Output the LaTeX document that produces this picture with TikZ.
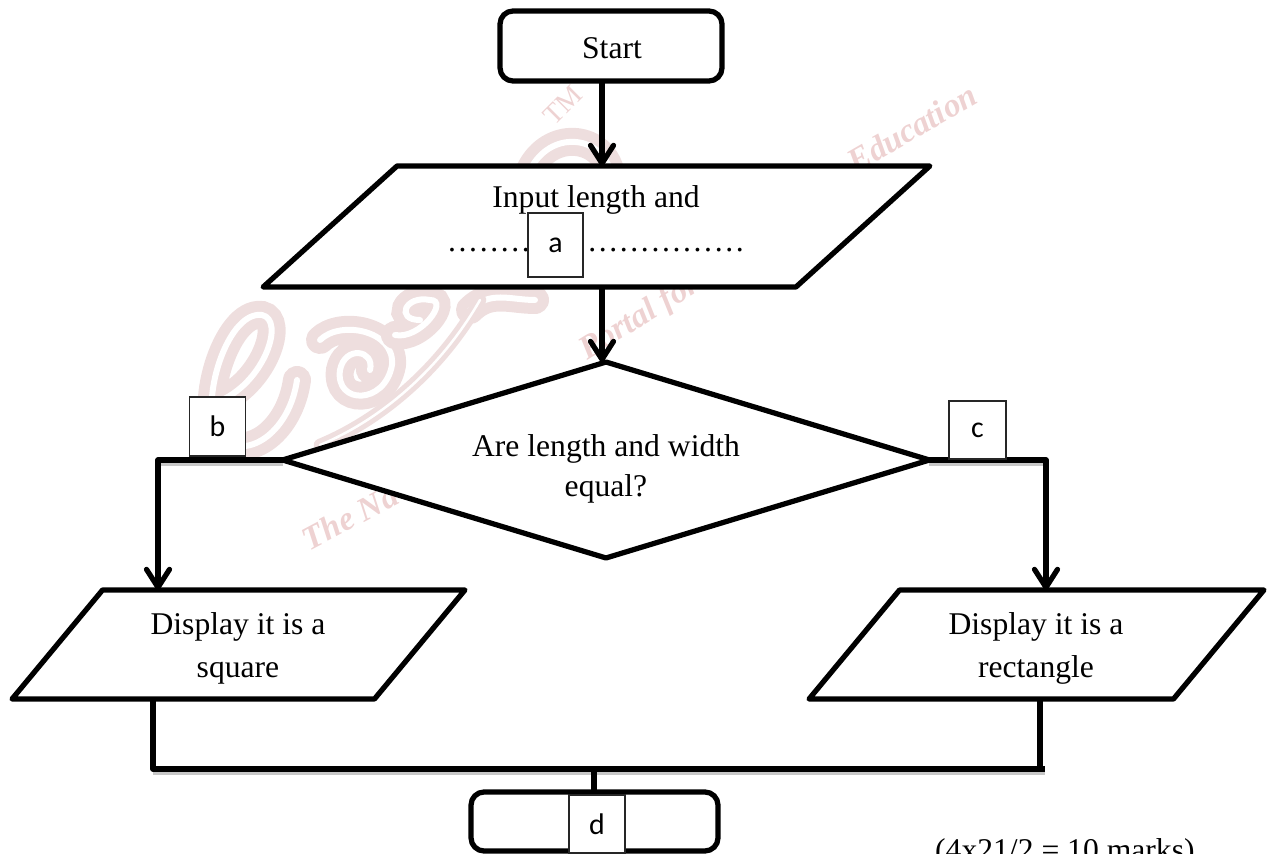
\documentclass[tikz,border=0pt]{standalone}
\usepackage{fontspec}
\setmainfont{Liberation Serif}
\newfontfamily\boxfont{Carlito}
\usetikzlibrary{shapes,arrows.meta,shadows}
\definecolor{wmpink}{RGB}{238,222,222}
\definecolor{wmtext}{RGB}{238,210,210}

\begin{document}
\begin{tikzpicture} [
    x=0.02cm,
    y=-0.02cm,
    >={Straight Barb[length=3.6mm,width=4.6mm,round]},
    font=\fontsize{18}{24.5}\selectfont,
  ]

  \tikzstyle{flowline} = [
    line width=0.105cm,
    line join=round,
    draw=black,
  ]
  \tikzstyle{softline} = [
    line width=0.1cm,
    draw=black!22,
    transform canvas={yshift=-0.07cm},
  ]
  \tikzstyle{terminal} = [
    flowline,
    rectangle,
    rounded corners=0.26cm,
    fill=white,
    outer sep=0pt,
  ]
  \tikzstyle{slanted} = [
    flowline,
    trapezium,
    fill=white,
    outer sep=0pt,
  ]
  \tikzstyle{letterbox} = [
    draw=black!85,
    line width=0.03cm,
    fill=white,
    minimum width=1.12cm,
    font=\boxfont\fontsize{17}{20}\selectfont,
    outer sep=0pt,
    inner sep=0pt,
  ]
  \tikzstyle{words} = [
    font=\fontsize{18}{24.5}\selectfont,
    align=center,
  ]
  \tikzstyle{logostroke} = [
    draw=wmpink,
    line width=0.22cm,
    double=white,
    double distance=0.12cm,
    line cap=round,
  ]
  \tikzstyle{wmark} = [
    text=wmtext,
    font=\fontsize{19}{20}\selectfont\itshape\bfseries,
  ]

  \useasboundingbox (0,0) rectangle (1272,854);

  % watermark
  \draw[logostroke] (297,380) .. controls (290,430) and (250,460) .. (222,440)
     .. controls (195,415) and (225,310) .. (262,315)
     .. controls (285,320) and (265,380) .. (222,400);
  \draw[logostroke] (320,340) .. controls (340,320) and (395,330) .. (392,365)
     .. controls (385,405) and (335,405) .. (340,370) .. controls (345,345) and (375,350) .. (370,370);
  \draw[logostroke] (395,335) .. controls (420,340) and (450,300) .. (430,300)
     .. controls (405,295) and (395,320) .. (420,320);
  \draw[logostroke] (470,310) .. controls (490,290) and (510,300) .. (535,300);
  \draw[logostroke] (530,170) .. controls (550,130) and (600,135) .. (610,170);
  \draw[logostroke,line width=0.1cm,double distance=0.05cm] (320,445)
     .. controls (380,420) and (440,370) .. (480,300);
  \node[wmark,rotate=28] (wmThe) at (350,517) {The Na};
  \node[wmark,rotate=32] (wmPortal) at (640,318) {Portal for};
  \node[wmark,rotate=30] (wmEdu) at (912,128) {Education};
  \node[wmark,rotate=45,font=\fontsize{16}{18}\selectfont] (wmTm) at (563,105) {TM};

  % boxes
  \node[terminal,minimum width=4.44cm,minimum height=1.4cm] (start) at (611,46) {};
  \node[slanted,inner xsep=3.99cm,inner ysep=1.21cm,
        trapezium left angle=42.1,trapezium right angle=137.9] (input) at (596.5,226.5) {};
  \node[diamond,flowline,fill=white,outer sep=0pt,inner sep=0pt,
        minimum width=12.94cm,minimum height=3.92cm] (ask) at (606,460) {};
  \node[slanted,inner xsep=2.72cm,inner ysep=1.09cm,
        trapezium left angle=50.3,trapezium right angle=129.7] (square) at (238.5,644.5) {};
  \node[slanted,inner xsep=2.74cm,inner ysep=1.09cm,
        trapezium left angle=50.3,trapezium right angle=129.7] (rect) at (1036.5,644.5) {};
  \node[terminal,minimum width=4.94cm,minimum height=1.18cm] (stop) at (594.5,821.5) {};

  % texts
  \node[words] (startText) at (612,48) {Start};
  \node[words,anchor=base] (inputText) at (596,208) {Input length and};
  \node[words,anchor=base] (dotsLeft) at (489,252) {\frenchspacing\spaceskip=1.5pt . . . . . . . .};
  \node[words,anchor=base] (dotsRight) at (666,252) {\frenchspacing\spaceskip=1.5pt . . . . . . . . . . . . . . .};
  \node[words] (askText) at (606,469) {Are length and width\\[-1.5pt]equal?};
  \node[words] (squareText) at (238,648) {Display it is a\\square};
  \node[words] (rectText) at (1036,648) {Display it is a\\rectangle};
  \node[words,anchor=base west] (marksText) at (929,860) {(4x21/2 = 10 marks)};

  % connectors
  \coordinate (axis)   at (602,0);
  \coordinate (leftUp) at (158,460);
  \coordinate (rightUp) at (1046,460);
  \coordinate (mergeL) at (153,769);
  \coordinate (mergeR) at (1040,769);
  \coordinate (mergeEnd) at (1045,769);
  \coordinate (mergeMid) at (594,769);

  \draw[softline] (mergeL) -- (mergeEnd);
  \draw[softline] (ask.west) -- (leftUp);
  \draw[softline] (ask.east) -- (rightUp);

  \draw[flowline,->] (start.south -| axis) -- (input.north -| axis);
  \draw[flowline,->] (input.south -| axis) -- (ask.north -| axis);
  \draw[flowline,->] (ask.west) -- (leftUp) -- (leftUp |- square.north);
  \draw[flowline,->] (ask.east) -- (rightUp) -- (rightUp |- rect.north);
  \draw[flowline] (square.south -| mergeL) -- (mergeL) -- (mergeEnd);
  \draw[flowline] (rect.south -| mergeR) -- (mergeR);
  \draw[flowline] (mergeMid) -- (mergeMid |- stop.north);

  % letter boxes on top
  \node[letterbox,minimum height=1.28cm,minimum width=1.1cm] (boxA) at (555.5,245) {a};
  \node[letterbox,minimum height=1.18cm] (boxB) at (217.5,426.5) {b};
  \node[letterbox,minimum height=1.16cm,minimum width=1.14cm] (boxC) at (977.5,430) {c};
  \node[letterbox,minimum height=1.16cm] (boxD) at (597,824) {d};

\end{tikzpicture}
\end{document}
